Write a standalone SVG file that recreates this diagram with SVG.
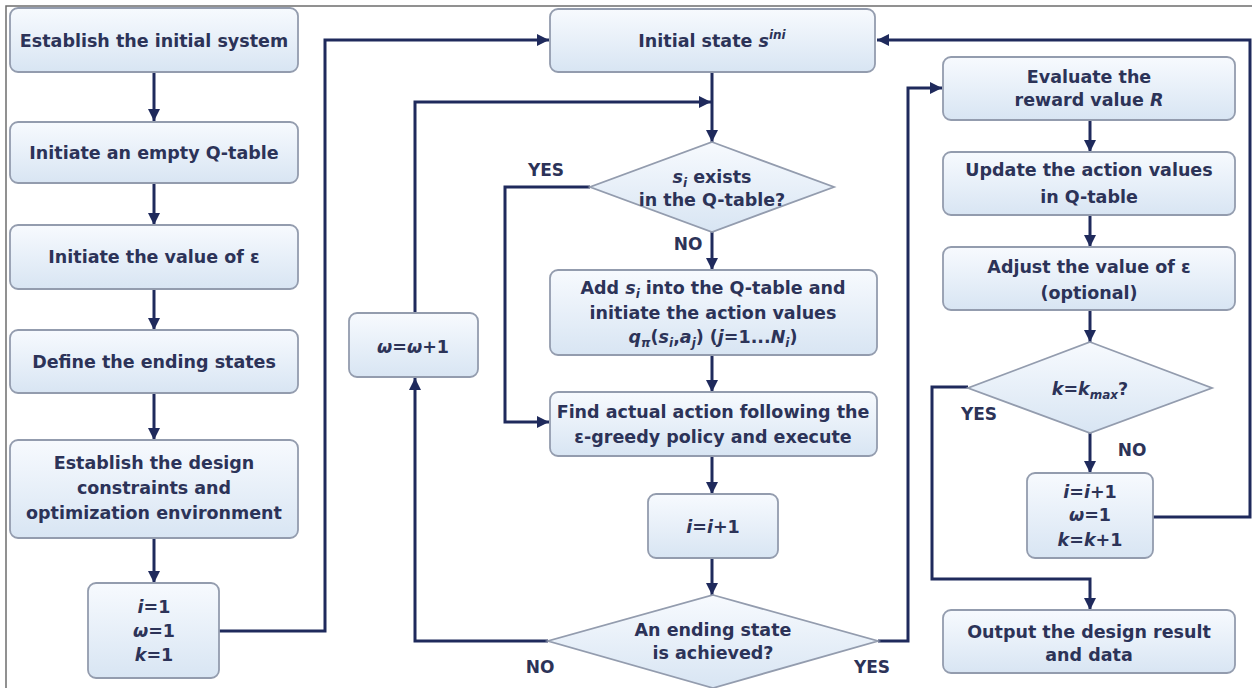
<svg xmlns="http://www.w3.org/2000/svg" width="1252" height="688" viewBox="0 0 1252 688">
  <defs>
    <linearGradient id="boxFill" x1="0" y1="0" x2="0" y2="1">
      <stop offset="0" stop-color="#f7fafe"/>
      <stop offset="1" stop-color="#d8e5f3"/>
    </linearGradient>
    <marker id="arrow" viewBox="0 0 12 12" refX="12" refY="6" markerWidth="12" markerHeight="12" markerUnits="userSpaceOnUse" orient="auto">
      <path d="M0,0 L12,6 L0,12 z" fill="#1f2a5c"/>
    </marker>
    <style>
      .box { fill: url(#boxFill); stroke: #939cae; stroke-width: 1.8; }
      .dia { fill: url(#boxFill); stroke: #939cae; stroke-width: 1.8; }
      .t { font-family: "DejaVu Sans", Verdana, sans-serif; font-weight: bold; font-size: 17.5px; fill: #2c3358; text-anchor: middle; }
      .lbl { font-family: "DejaVu Sans", Verdana, sans-serif; font-weight: bold; font-size: 17px; fill: #2c3358; text-anchor: middle; }
      .i { font-style: italic; }
      .sm { font-size: 12px; }
      .wire { fill: none; stroke: #1f2a5c; stroke-width: 3; }
      .frame { fill: none; stroke: #6e6e6e; stroke-width: 1.5; }
    </style>
  </defs>

  <rect width="1252" height="688" fill="#ffffff"/>
  <path class="frame" d="M6,688 L6,6 L1252,6"/>

  <!-- connectors -->
  <g id="connectors">
    <path class="wire" d="M154,72 L154,121" marker-end="url(#arrow)"/>
    <path class="wire" d="M154,183 L154,225" marker-end="url(#arrow)"/>
    <path class="wire" d="M154,289 L154,330" marker-end="url(#arrow)"/>
    <path class="wire" d="M154,393 L154,440" marker-end="url(#arrow)"/>
    <path class="wire" d="M154,538 L154,583" marker-end="url(#arrow)"/>
    <path class="wire" d="M219,631 L325,631 L325,40 L549,40" marker-end="url(#arrow)"/>
    <path class="wire" d="M712,72 L712,142" marker-end="url(#arrow)"/>
    <path class="wire" d="M415,313 L415,102 L711,102" marker-end="url(#arrow)"/>
    <path class="wire" d="M590,187 L505,187 L505,422 L549,422" marker-end="url(#arrow)"/>
    <path class="wire" d="M712,232 L712,270" marker-end="url(#arrow)"/>
    <path class="wire" d="M712,355 L712,392" marker-end="url(#arrow)"/>
    <path class="wire" d="M712,456 L712,494" marker-end="url(#arrow)"/>
    <path class="wire" d="M712,558 L712,595" marker-end="url(#arrow)"/>
    <path class="wire" d="M548,641 L415,641 L415,378" marker-end="url(#arrow)"/>
    <path class="wire" d="M878,641 L908,641 L908,88 L942,88" marker-end="url(#arrow)"/>
    <path class="wire" d="M1090,120 L1090,152" marker-end="url(#arrow)"/>
    <path class="wire" d="M1090,215 L1090,247" marker-end="url(#arrow)"/>
    <path class="wire" d="M1090,310 L1090,342" marker-end="url(#arrow)"/>
    <path class="wire" d="M1090,433 L1090,473" marker-end="url(#arrow)"/>
    <path class="wire" d="M968,387 L932,387 L932,579 L1090,579 L1090,610" marker-end="url(#arrow)"/>
    <path class="wire" d="M1153,517 L1250,517 L1250,40 L877,40" marker-end="url(#arrow)"/>
  </g>

  <!-- left column -->
  <g id="establish-system">
    <rect class="box" x="10" y="8" width="288" height="64" rx="8"/>
    <text class="t" x="154" y="47">Establish the initial system</text>
  </g>
  <g id="empty-qtable">
    <rect class="box" x="10" y="122" width="288" height="61" rx="8"/>
    <text class="t" x="154" y="159">Initiate an empty Q-table</text>
  </g>
  <g id="init-epsilon">
    <rect class="box" x="10" y="225" width="288" height="64" rx="8"/>
    <text class="t" x="154" y="263">Initiate the value of ε</text>
  </g>
  <g id="ending-states">
    <rect class="box" x="10" y="330" width="288" height="63" rx="8"/>
    <text class="t" x="154" y="368">Define the ending states</text>
  </g>
  <g id="constraints">
    <rect class="box" x="10" y="440" width="288" height="98" rx="8"/>
    <text class="t" x="154" y="469">Establish the design</text>
    <text class="t" x="154" y="494">constraints and</text>
    <text class="t" x="154" y="519">optimization environment</text>
  </g>
  <g id="init-counters">
    <rect class="box" x="88" y="583" width="131" height="95" rx="8"/>
    <text class="t" x="154" y="613"><tspan class="i">i</tspan>=1</text>
    <text class="t" x="154" y="637"><tspan class="i">ω</tspan>=1</text>
    <text class="t" x="154" y="661"><tspan class="i">k</tspan>=1</text>
  </g>

  <!-- middle column -->
  <g id="omega-increment">
    <rect class="box" x="349" y="313" width="129" height="64" rx="8"/>
    <text class="t" x="413" y="353"><tspan class="i">ω</tspan>=<tspan class="i">ω</tspan>+1</text>
  </g>
  <g id="initial-state">
    <rect class="box" x="550" y="9" width="325" height="63" rx="8"/>
    <text class="t" x="712" y="47">Initial state <tspan class="i">s</tspan><tspan class="i sm" dy="-8">ini</tspan></text>
  </g>
  <g id="exists-check">
    <polygon class="dia" points="712,142 834,187 712,232 590,187"/>
    <text class="t" x="712" y="183"><tspan class="i">s</tspan><tspan class="i sm" dy="4">i</tspan><tspan dy="-4"> exists</tspan></text>
    <text class="t" x="712" y="206">in the Q-table?</text>
  </g>
  <g id="add-state">
    <rect class="box" x="550" y="270" width="327" height="85" rx="8"/>
    <text class="t" x="713" y="294">Add <tspan class="i">s</tspan><tspan class="i sm" dy="4">i</tspan><tspan dy="-4"> into the Q-table and</tspan></text>
    <text class="t" x="713" y="319">initiate the action values</text>
    <text class="t" x="713" y="343"><tspan class="i">q</tspan><tspan class="i sm" dy="4">π</tspan><tspan dy="-4">(</tspan><tspan class="i">s</tspan><tspan class="i sm" dy="4">i</tspan><tspan dy="-4">,</tspan><tspan class="i">a</tspan><tspan class="i sm" dy="4">j</tspan><tspan dy="-4">) (</tspan><tspan class="i">j</tspan>=1...<tspan class="i">N</tspan><tspan class="i sm" dy="4">i</tspan><tspan dy="-4">)</tspan></text>
  </g>
  <g id="find-action">
    <rect class="box" x="550" y="392" width="327" height="64" rx="8"/>
    <text class="t" x="713" y="418">Find actual action following the</text>
    <text class="t" x="713" y="443">ε-greedy policy and execute</text>
  </g>
  <g id="i-increment">
    <rect class="box" x="648" y="494" width="130" height="64" rx="8"/>
    <text class="t" x="713" y="533"><tspan class="i">i</tspan>=<tspan class="i">i</tspan>+1</text>
  </g>
  <g id="ending-check">
    <polygon class="dia" points="713,595 878,641 713,688 548,641"/>
    <text class="t" x="713" y="636">An ending state</text>
    <text class="t" x="713" y="659">is achieved?</text>
  </g>

  <!-- right column -->
  <g id="evaluate-reward">
    <rect class="box" x="943" y="57" width="292" height="63" rx="8"/>
    <text class="t" x="1089" y="83">Evaluate the</text>
    <text class="t" x="1089" y="106">reward value <tspan class="i">R</tspan></text>
  </g>
  <g id="update-values">
    <rect class="box" x="943" y="152" width="292" height="63" rx="8"/>
    <text class="t" x="1089" y="176">Update the action values</text>
    <text class="t" x="1089" y="203">in Q-table</text>
  </g>
  <g id="adjust-epsilon">
    <rect class="box" x="943" y="247" width="292" height="63" rx="8"/>
    <text class="t" x="1089" y="273">Adjust the value of ε</text>
    <text class="t" x="1089" y="299">(optional)</text>
  </g>
  <g id="kmax-check">
    <polygon class="dia" points="1090,342 1212,388 1090,433 968,388"/>
    <text class="t" x="1090" y="395"><tspan class="i">k</tspan>=<tspan class="i">k</tspan><tspan class="i sm" dy="4">max</tspan><tspan dy="-4">?</tspan></text>
  </g>
  <g id="reset-counters">
    <rect class="box" x="1027" y="473" width="126" height="85" rx="8"/>
    <text class="t" x="1090" y="498"><tspan class="i">i</tspan>=<tspan class="i">i</tspan>+1</text>
    <text class="t" x="1090" y="521"><tspan class="i">ω</tspan>=1</text>
    <text class="t" x="1090" y="546"><tspan class="i">k</tspan>=<tspan class="i">k</tspan>+1</text>
  </g>
  <g id="output-result">
    <rect class="box" x="943" y="610" width="292" height="63" rx="8"/>
    <text class="t" x="1089" y="638">Output the design result</text>
    <text class="t" x="1089" y="661">and data</text>
  </g>

  <!-- branch labels -->
  <g id="branch-labels">
    <text class="lbl" x="546" y="176">YES</text>
    <text class="lbl" x="688" y="250">NO</text>
    <text class="lbl" x="540" y="673">NO</text>
    <text class="lbl" x="872" y="673">YES</text>
    <text class="lbl" x="979" y="420">YES</text>
    <text class="lbl" x="1132" y="456">NO</text>
  </g>
</svg>
